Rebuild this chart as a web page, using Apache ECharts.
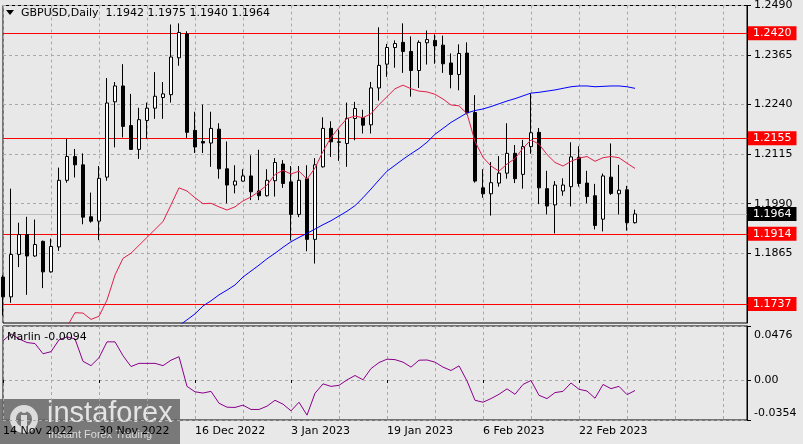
<!DOCTYPE html>
<html><head><meta charset="utf-8">
<script src="https://cdn.jsdelivr.net/npm/echarts@6/dist/echarts.min.js"></script>
<style>html,body{margin:0;padding:0;background:#e8e8e8;overflow:hidden}#c{width:803px;height:444px}</style>
</head><body><div id="c"></div>
<script>
const symbolName = 'GBPUSD,Daily';
const indicatorName = 'Marlin';
const dates = [
'2022-11-14','2022-11-15','2022-11-16','2022-11-17','2022-11-18','2022-11-21','2022-11-22','2022-11-23','2022-11-24','2022-11-25',
'2022-11-28','2022-11-29','2022-11-30','2022-12-01','2022-12-02','2022-12-05','2022-12-06','2022-12-07','2022-12-08','2022-12-09',
'2022-12-12','2022-12-13','2022-12-14','2022-12-15','2022-12-16','2022-12-19','2022-12-20','2022-12-21','2022-12-22','2022-12-23',
'2022-12-26','2022-12-27','2022-12-28','2022-12-29','2022-12-30','2023-01-02','2023-01-03','2023-01-04','2023-01-05','2023-01-06',
'2023-01-09','2023-01-10','2023-01-11','2023-01-12','2023-01-13','2023-01-16','2023-01-17','2023-01-18','2023-01-19','2023-01-20',
'2023-01-23','2023-01-24','2023-01-25','2023-01-26','2023-01-27','2023-01-30','2023-01-31','2023-02-01','2023-02-02','2023-02-03',
'2023-02-06','2023-02-07','2023-02-08','2023-02-09','2023-02-10','2023-02-13','2023-02-14','2023-02-15','2023-02-16','2023-02-17',
'2023-02-20','2023-02-21','2023-02-22','2023-02-23','2023-02-24','2023-02-27','2023-02-28','2023-03-01','2023-03-02','2023-03-03'];
const futureDates = ['2023-03-06','2023-03-07','2023-03-08','2023-03-09','2023-03-10','2023-03-13','2023-03-14','2023-03-15','2023-03-16','2023-03-17','2023-03-20','2023-03-21','2023-03-22','2023-03-23'];

const open = [1.1805,1.1755,1.1862,1.1912,1.1858,1.1895,1.1818,1.1881,1.2049,1.2109,
1.2088,1.1957,1.1946,1.2057,1.2247,1.2287,1.2187,1.2127,1.2200,1.2231,
1.2258,1.2265,1.2358,1.2418,1.2175,1.2147,1.2143,1.2178,1.2078,1.2037,
1.2047,1.2060,1.2022,1.2010,1.2048,1.2090,1.2045,1.1963,1.2053,1.1900,
1.2083,1.2180,1.2146,1.2142,1.2205,1.2207,1.2189,1.2282,1.2342,1.2384,
1.2397,1.2374,1.2326,1.2396,1.2402,1.2390,1.2345,1.2316,1.2370,1.2220,
1.2030,1.2015,1.2042,1.2067,1.2117,1.2064,1.2134,1.2170,1.2028,1.1987,
1.2022,1.2033,1.2107,1.2042,1.2010,1.1951,1.2057,1.2015,1.2025,1.1942];
const high = [1.1810,1.2028,1.1942,1.1957,1.1950,1.1897,1.1902,1.2081,1.2153,1.2128,
1.2117,1.2018,1.2085,1.2307,1.2297,1.2342,1.2267,1.2232,1.2245,1.2322,
1.2297,1.2442,1.2445,1.2425,1.2222,1.2240,1.2222,1.2193,1.2147,1.2087,
1.2077,1.2112,1.2126,1.2077,1.2105,1.2100,1.2085,1.2085,1.2087,1.2105,
1.2208,1.2198,1.2177,1.2245,1.2247,1.2227,1.2297,1.2435,1.2393,1.2402,
1.2445,1.2412,1.2402,1.2427,1.2417,1.2414,1.2369,1.2392,1.2397,1.2264,
1.2077,1.2095,1.2110,1.2193,1.2138,1.2151,1.2269,1.2181,1.2073,1.2047,
1.2054,1.2145,1.2135,1.2073,1.2040,1.2066,1.2142,1.2088,1.2035,1.1975];
const low = [1.1708,1.1740,1.1830,1.1760,1.1856,1.1777,1.1816,1.1871,1.2043,1.2056,
1.1938,1.1942,1.1898,1.2048,1.2132,1.2157,1.2126,1.2103,1.2154,1.2204,
1.2204,1.2245,1.2338,1.2156,1.2118,1.2118,1.2083,1.2053,1.1991,1.2016,
1.2046,1.1999,1.1999,1.2008,1.2008,1.2030,1.1897,1.1956,1.1870,1.1839,
1.2081,1.2108,1.2098,1.2083,1.2150,1.2167,1.2167,1.2250,1.2310,1.2333,
1.2320,1.2260,1.2282,1.2341,1.2343,1.2320,1.2281,1.2276,1.2215,1.2043,
1.2005,1.1960,1.2033,1.2053,1.2042,1.2028,1.2116,1.1989,1.1963,1.1915,
1.2010,1.1983,1.2033,1.1991,1.1925,1.1920,1.2012,1.1963,1.1922,1.1940];
const close = [1.1755,1.1862,1.1912,1.1858,1.1887,1.1818,1.1882,1.2049,1.2109,1.2088,
1.1956,1.1946,1.2054,1.2244,1.2287,1.2185,1.2127,1.2202,1.2231,1.2261,
1.2267,1.2360,1.2422,1.2170,1.2133,1.2143,1.2180,1.2078,1.2037,1.2047,
1.2060,1.2020,1.2010,1.2049,1.2094,1.2041,1.1963,1.2049,1.1900,1.2088,
1.2180,1.2146,1.2145,1.2205,1.2230,1.2188,1.2282,1.2339,1.2384,1.2394,
1.2374,1.2326,1.2397,1.2404,1.2388,1.2343,1.2316,1.2369,1.2219,1.2047,
1.2015,1.2043,1.2067,1.2117,1.2053,1.2134,1.2169,1.2030,1.1984,1.2037,
1.2037,1.2108,1.2041,1.2008,1.1935,1.2060,1.2016,1.2024,1.1942,1.1964];

const maFast = [null,null,null,null,null,null,null,1.1660,1.1680,1.1715,
1.1714,1.1698,1.1706,1.1747,1.1810,1.1852,1.1865,1.1885,1.1905,1.1925,
1.1945,1.1987,1.2030,1.2022,1.2005,1.1990,1.1991,1.1982,1.1974,1.1982,
1.1997,1.2007,1.2021,1.2037,1.2064,1.2074,1.2065,1.2072,1.2052,1.2080,
1.2122,1.2157,1.2182,1.2205,1.2211,1.2207,1.2217,1.2240,1.2260,1.2280,
1.2289,1.2280,1.2274,1.2272,1.2266,1.2254,1.2239,1.2237,1.2217,1.2147,
1.2107,1.2085,1.2072,1.2090,1.2104,1.2130,1.2151,1.2140,1.2114,1.2094,
1.2085,1.2097,1.2105,1.2109,1.2097,1.2106,1.2109,1.2106,1.2092,1.2079];
const maSlow = [null,null,null,null,null,null,null,null,null,null,
null,null,null,null,null,null,null,null,null,null,
null,1.1666,1.1682,1.1697,1.1712,1.1732,1.1745,1.1760,1.1772,1.1785,
1.1805,1.1820,1.1835,1.1851,1.1865,1.1880,1.1894,1.1905,1.1915,1.1926,
1.1937,1.1947,1.1959,1.1971,1.1985,1.2005,1.2027,1.2050,1.2072,1.2087,
1.2102,1.2116,1.2129,1.2145,1.2165,1.2180,1.2195,1.2207,1.2219,1.2225,
1.2229,1.2235,1.2242,1.2249,1.2255,1.2262,1.2269,1.2271,1.2274,1.2277,
1.2281,1.2285,1.2287,1.2287,1.2285,1.2286,1.2287,1.2287,1.2285,1.2281];
const marlin = [0.0345,0.0406,0.0362,0.0330,0.0321,0.0231,0.0249,0.0354,0.0380,0.0362,
0.0164,0.0126,0.0196,0.0336,0.0336,0.0214,0.0118,0.0146,0.0146,0.0146,
0.0126,0.0174,0.0205,-0.0057,-0.0105,-0.0116,-0.0101,-0.0206,-0.0241,-0.0243,
-0.0223,-0.0261,-0.0261,-0.0232,-0.0180,-0.0214,-0.0273,-0.0197,-0.0311,-0.0118,
-0.0035,-0.0057,-0.0048,0.0000,0.0039,0.0001,0.0100,0.0153,0.0183,0.0179,
0.0157,0.0113,0.0174,0.0176,0.0157,0.0113,0.0083,0.0124,-0.0009,-0.0180,
-0.0197,-0.0165,-0.0127,-0.0079,-0.0127,-0.0040,-0.0005,-0.0136,-0.0165,-0.0112,
-0.0101,-0.0027,-0.0083,-0.0098,-0.0162,-0.0040,-0.0077,-0.0057,-0.0130,-0.0094];

const priceTicks = [1.1865, 1.1990, 1.2115, 1.2240, 1.2365, 1.2490];
const priceMin = 1.1689, priceMax = 1.2490;
const levels = [1.2420, 1.2155, 1.1914, 1.1737];
const bid = 1.1964;
const marlinTicks = [-0.0354, 0, 0.0476];
const MON = ['Jan','Feb','Mar','Apr','May','Jun','Jul','Aug','Sep','Oct','Nov','Dec'];

const FONT = 'DejaVu Sans';
const BG = '#e8e8e8';
const GRIDC = '#a9a9a9';
const cats = dates.concat(futureDates);
const candles = dates.map((d, i) => [open[i], close[i], low[i], high[i]]);
const n = dates.length;
const fmtDate = v => { const p = v.split('-'); return (+p[2]) + ' ' + MON[+p[1] - 1] + ' ' + p[0]; };
const labelIdx = (i) => i % 12 === 0 && i < n;
const gridIdx = (i) => i % 6 === 0;

const chart = echarts.init(document.getElementById('c'), null, {renderer: 'canvas'});
const markData = levels.map(v => ({yAxis: v}));
markData.push({yAxis: bid, lineStyle: {color: '#c0c0c0', type: 'solid', width: 1}, label: {backgroundColor: '#000000'}});

const last = n - 1;
const titleText = symbolName + '  ' + [open[last], high[last], low[last], close[last]].map(v => v.toFixed(4)).join(' ');

chart.setOption({
  animation: false,
  backgroundColor: BG,
  textStyle: {fontFamily: FONT},
  grid: [
    {left: 3, top: 3, width: 744, height: 320, show: true, borderColor: '#000', borderWidth: 1, backgroundColor: BG},
    {left: 3, top: 326, width: 744, height: 94, show: true, borderColor: '#000', borderWidth: 1, backgroundColor: BG}
  ],
  xAxis: [
    {type: 'category', gridIndex: 0, data: cats, boundaryGap: false,
     axisLine: {show: false}, axisTick: {show: false}, axisLabel: {show: false},
     splitLine: {show: true, interval: gridIdx, lineStyle: {color: GRIDC, type: [3, 3], width: 1}}},
    {type: 'category', gridIndex: 1, data: cats, boundaryGap: false,
     axisLine: {show: false},
     axisTick: {show: true, interval: labelIdx, length: 3, lineStyle: {color: '#000'}},
     axisLabel: {show: true, interval: labelIdx, align: 'left', margin: 6, color: '#000', fontSize: 11, fontFamily: FONT, formatter: fmtDate},
     splitLine: {show: true, interval: gridIdx, lineStyle: {color: GRIDC, type: [3, 3], width: 1}}}
  ],
  yAxis: [
    {type: 'value', gridIndex: 0, position: 'right', min: priceMin, max: priceMax, scale: true,
     axisLine: {show: true, lineStyle: {color: '#000'}},
     axisTick: {show: true, length: 4, customValues: priceTicks, lineStyle: {color: '#000'}},
     axisLabel: {show: true, customValues: priceTicks, margin: 7, color: '#000', fontSize: 11, fontFamily: FONT, formatter: v => v.toFixed(4)},
     splitLine: {show: true, lineStyle: {color: GRIDC, type: [3, 3], width: 1}}},
    {type: 'value', gridIndex: 1, position: 'right', min: marlinTicks[0], max: marlinTicks[2],
     axisLine: {show: true, lineStyle: {color: '#000'}},
     axisTick: {show: true, length: 4, customValues: marlinTicks, lineStyle: {color: '#000'}},
     axisLabel: {show: true, customValues: marlinTicks, margin: 7, color: '#000', fontSize: 11, fontFamily: FONT,
       formatter: v => v === 0 ? '0.00' : (v > 0 ? '{t|' + v.toFixed(4) + '}' : '{b|' + v.toFixed(4) + '}'),
       rich: {t: {padding: [18, 0, 0, 0], fontSize: 11, fontFamily: FONT, color: '#000'},
              b: {padding: [0, 0, 14, 0], fontSize: 11, fontFamily: FONT, color: '#000'}}},
     splitLine: {show: true, lineStyle: {color: GRIDC, type: [3, 3], width: 1}}}
  ],
  series: [
    {type: 'line', xAxisIndex: 0, yAxisIndex: 0, data: [], z: 1, silent: true,
     markLine: {silent: true, symbol: ['none', 'none'], z: 1, animation: false, precision: 4,
       lineStyle: {color: '#ff0000', type: 'solid', width: 1},
       label: {show: true, position: 'end', distance: 1, formatter: p => Number(p.value).toFixed(4), color: '#fff',
               backgroundColor: '#ff0000', padding: [1, 5, 1, 5], lineHeight: 12, fontSize: 11, fontFamily: FONT},
       emphasis: {disabled: true},
       data: markData}},
    {type: 'candlestick', xAxisIndex: 0, yAxisIndex: 0, data: candles, barWidth: 4, z: 3,
     itemStyle: {color: '#ffffff', color0: '#000000', borderColor: '#000000', borderColor0: '#000000', borderWidth: 1}},
    {type: 'line', xAxisIndex: 0, yAxisIndex: 0, data: maSlow, symbol: 'none', z: 4,
     lineStyle: {color: '#0000ff', width: 1}},
    {type: 'line', xAxisIndex: 0, yAxisIndex: 0, data: maFast, symbol: 'none', z: 4,
     lineStyle: {color: '#e0204a', width: 1}},
    {type: 'line', xAxisIndex: 1, yAxisIndex: 1, data: marlin, symbol: 'none', z: 4,
     lineStyle: {color: '#8b008b', width: 1}}
  ],
  graphic: [
    {type: 'polygon', shape: {points: [[6, 10], [14, 10], [10, 15]]}, style: {fill: '#000'}, z: 10},
    {type: 'text', x: 21, y: 13, style: {text: titleText, fill: '#000', font: '11px "DejaVu Sans"', textVerticalAlign: 'middle'}, z: 10},
    {type: 'text', x: 7, y: 337, style: {text: indicatorName + ' ' + marlin[last].toFixed(4), fill: '#000', font: '11px "DejaVu Sans"', textVerticalAlign: 'middle'}, z: 10},
    {type: 'group', x: 0, y: 399, z: 20, children: [
      {type: 'rect', shape: {x: 0, y: 0, width: 180, height: 45}, style: {fill: 'rgba(105,105,105,0.88)'}},
      {type: 'circle', shape: {cx: 24, cy: 20, r: 11}, style: {fill: 'none', stroke: '#dcdcdc', lineWidth: 6}},
      {type: 'rect', shape: {x: 21, y: 16, width: 6, height: 16}, style: {fill: '#dcdcdc'}},
      {type: 'circle', shape: {cx: 24, cy: 11, r: 3}, style: {fill: '#dcdcdc'}},
      {type: 'text', x: 47, y: 0, style: {text: 'instaforex', fill: '#e4e4e4', font: '29px "Liberation Sans"'}},
      {type: 'text', x: 48, y: 30, style: {text: 'Instant Forex Trading', fill: '#dcdcdc', font: '11px "Liberation Sans"'}}
    ]}
  ]
});
</script>
</body></html>
